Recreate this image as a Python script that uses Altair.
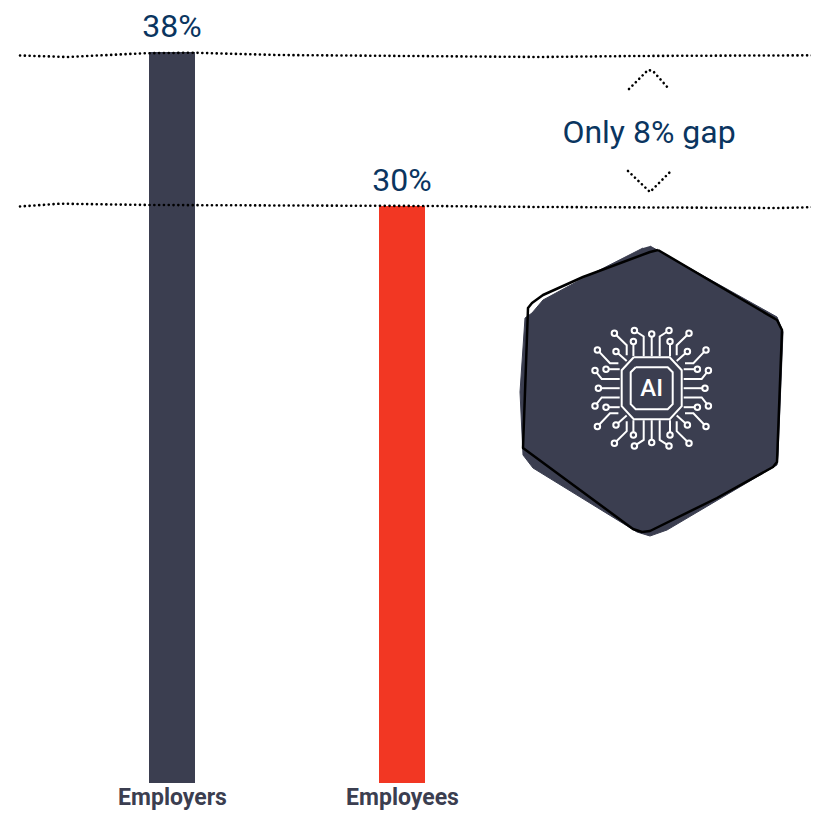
import altair as alt
import pandas as pd

NAVY = "#3b3e50"
RED = "#f23723"
BLUE = "#0a3560"
FONT = "Roboto"

categories = ["Employers", "Employees"]
values = [38, 30]
value_labels = ["38%", "30%"]
bar_colors = [NAVY, RED]

line1_x = [20, 67, 143, 193, 277, 540, 633, 707, 819]
line1_y = [55.5, 57, 53.3, 52.7, 55, 57, 56, 55.7, 55.3]
line2_x = [20, 60, 150, 430, 540, 780, 819]
line2_y = [206.5, 203.7, 205, 206, 207, 208, 207]
up_x = [629, 648, 653, 669]
up_y = [89, 70, 71, 89]
down_x = [628, 650, 670]
down_y = [171, 192, 172]

hex_fill_x = [650, 777, 783, 778, 777, 667, 650, 637, 533, 523, 520, 525, 532, 543, 580, 643]
hex_fill_y = [246, 317, 332, 455, 465, 530, 536, 532, 468, 455, 392, 318, 313, 300, 280, 248]
hex_line_x = [658, 777, 782, 777, 773, 717, 650, 642, 633, 523, 528, 532, 543, 583, 650, 658]
hex_line_y = [250, 320, 330, 462, 467, 498, 531, 532, 529, 448, 308, 303, 295, 277, 252, 250]

icon_cx, icon_cy = 651.7, 388.2
outer_chip = [(-18, -31), (18, -31), (30, -18), (30, 18), (18, 31), (-18, 31), (-30, 18), (-30, -18), (-18, -31)]
inner_chip = [(-16, -21), (16, -21), (21, -16), (21, 16), (16, 21), (-16, 21), (-21, 16), (-21, -16), (-16, -21)]
pins = [
    [(-37.3, -55), (-25, -43), (-25, -33)],
    [(-17.3, -57.7), (-8, -51.7), (-8, -32)],
    [(-18.3, -46.7), (-18.3, -32)],
    [(-35.7, -36.7), (-25, -27.3)],
    [(-54.3, -38.3), (-41.7, -25), (-33.3, -25)],
    [(-56.7, -17.7), (-50, -9.3), (-32, -9.3)],
    [(-45.7, -19), (-32, -19)],
]
axis_pins = [[(0, -54.3), (0, -32)], [(0, 54.3), (0, 32)], [(-53.3, 0), (-32, 0)], [(53.3, 0), (32, 0)]]

rows, dots = [], []
gid = 0
def add(seg):
    global gid
    for i, (a, b) in enumerate(seg):
        rows.append({"g": gid, "i": i, "x": icon_cx + a, "y": icon_cy + b})
    gid += 1
add(outer_chip)
add(inner_chip)
for seg in pins:
    for sx, sy in [(1, 1), (-1, 1), (1, -1), (-1, -1)]:
        m = [(a * sx, b * sy) for a, b in seg]
        add(m)
        dots.append({"x": icon_cx + m[0][0], "y": icon_cy + m[0][1]})
for seg in axis_pins:
    add(seg)
    dots.append({"x": icon_cx + seg[0][0], "y": icon_cy + seg[0][1]})

W, H = 803, 803
BASE = 775
px = alt.Scale(domain=[8, 8 + W], range=[0, W])
py = alt.Scale(domain=[8, 8 + H], range=[0, H])
X = alt.X("x:Q", scale=px, axis=None)
Y = alt.Y("y:Q", scale=py, axis=None)
vscale = alt.Scale(domain=[0, 775 / 19.235], range=[BASE, 0])
cat_scale = alt.Scale(type="point", domain=categories, range=[164, 394], padding=0)
cat_x = alt.X("cat:N", scale=cat_scale,
              sort=categories, title=None,
              axis=alt.Axis(orient="bottom", offset=BASE - H, domain=False, ticks=False, labelAngle=0,
                            labelFont=FONT, labelFontSize=23, labelFontWeight="bold", labelColor=NAVY,
                            labelPadding=14, labelBaseline="middle", grid=False))

bars_df = pd.DataFrame({"cat": categories, "v": values, "t": value_labels, "c": bar_colors})
bars = alt.Chart(bars_df).mark_bar(size=46).encode(
    x=cat_x,
    y=alt.Y("v:Q", scale=vscale, axis=None),
    color=alt.Color("c:N", scale=None),
)
labels = alt.Chart(bars_df).mark_text(font=FONT, fontSize=32, color=BLUE, baseline="middle", dy=-25).encode(
    x=alt.X("cat:N", scale=cat_scale, axis=None),
    y=alt.Y("v:Q", scale=vscale, axis=None),
    text="t:N",
)

def frame(xs, ys):
    return pd.DataFrame({"x": xs, "y": ys, "i": range(len(xs))})

def dotted(xs, ys):
    return alt.Chart(frame(xs, ys)).mark_line(
        color="#000000", strokeWidth=2.6, strokeDash=[0.1, 4.7], strokeCap="round"
    ).encode(x=X, y=Y, order="i:Q")

hex_fill = alt.Chart(frame(hex_fill_x, hex_fill_y)).mark_line(
    fill=NAVY, stroke=NAVY, strokeWidth=1
).encode(x=X, y=Y, order="i:Q")
hex_line = alt.Chart(frame(hex_line_x, hex_line_y)).mark_line(
    color="#000000", strokeWidth=2.5, strokeJoin="round"
).encode(x=X, y=Y, order="i:Q")
icon_lines = alt.Chart(pd.DataFrame(rows)).mark_line(color="#ffffff", strokeWidth=2).encode(
    x=X, y=Y, detail="g:N", order="i:Q"
)
icon_dots = alt.Chart(pd.DataFrame(dots)).mark_point(
    shape="circle", size=30, filled=True, fill=NAVY, stroke="#ffffff", strokeWidth=2, opacity=1
).encode(x=X, y=Y)
ai = alt.Chart(pd.DataFrame({"x": [icon_cx], "y": [icon_cy + 0.5], "t": ["AI"]})).mark_text(
    font=FONT, fontSize=24, fontWeight=500, color="#ffffff", baseline="middle"
).encode(x=X, y=Y, text="t:N")
gap = alt.Chart(pd.DataFrame({"x": [649], "y": [132.5], "t": ["Only 8% gap"]})).mark_text(
    font=FONT, fontSize=32, color=BLUE, baseline="middle"
).encode(x=X, y=Y, text="t:N")

chart = alt.layer(
    bars, labels,
    dotted(line1_x, line1_y), dotted(line2_x, line2_y), dotted(up_x, up_y), dotted(down_x, down_y),
    gap, hex_fill, hex_line, icon_lines, icon_dots, ai,
).resolve_scale(x="independent", y="independent").properties(
    width=W, height=H, padding=0, autosize=alt.AutoSizeParams(type="none")
).configure_view(stroke=None)

chart.save("out.html", embed_options={"renderer": "svg", "actions": False})
